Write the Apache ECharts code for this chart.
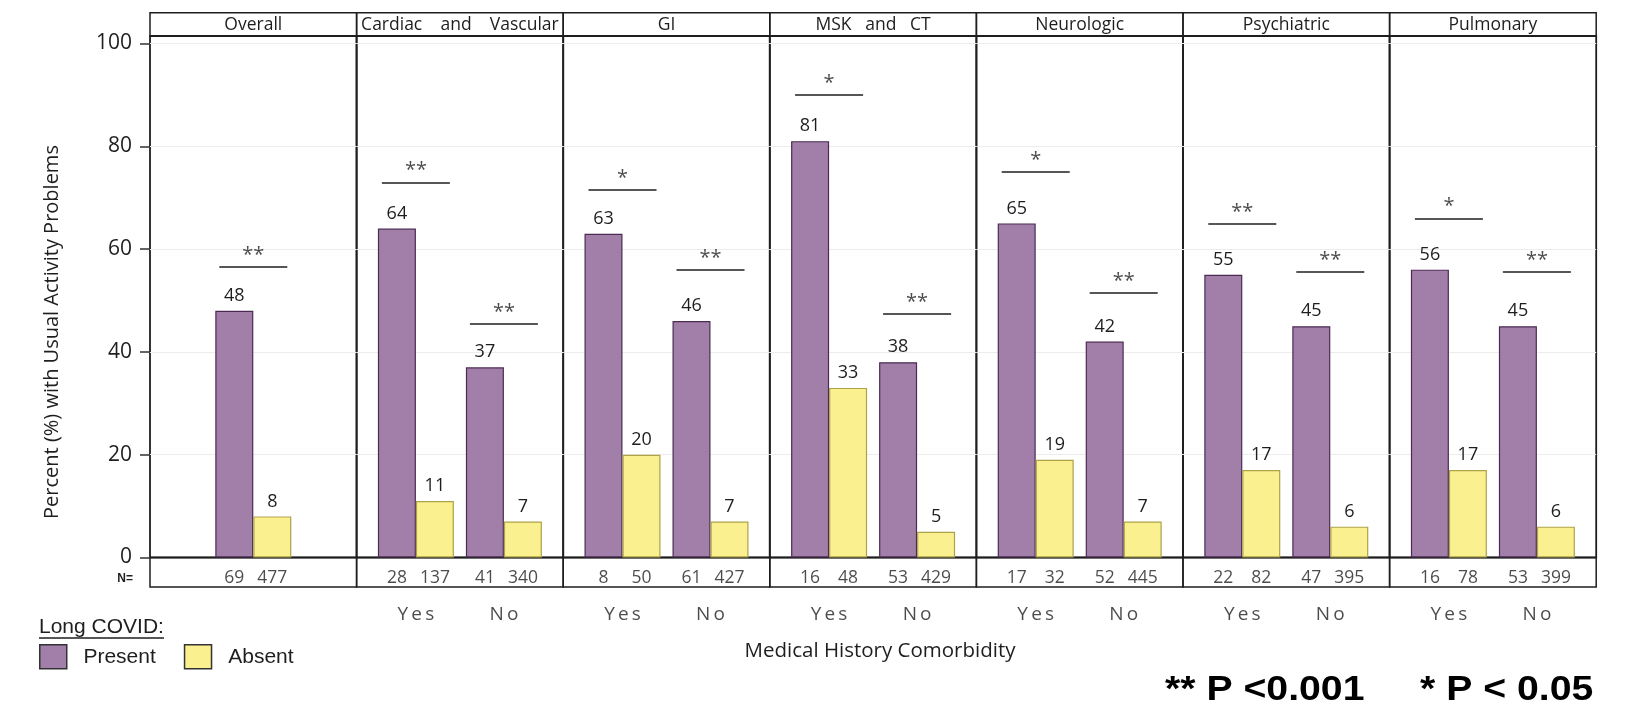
<!DOCTYPE html>
<html>
<head>
<meta charset="utf-8">
<script src="https://cdn.jsdelivr.net/npm/echarts@6/dist/echarts.min.js"></script>
<style>
  html, body { margin: 0; padding: 0; background: #fff; }
  #chart { width: 1636px; height: 707px; }
</style>
</head>
<body>
<div id="chart"></div>
<script>
// Comorbidity panels and their Yes/No groups
const panels = ['Overall', 'Cardiac    and    Vascular', 'GI', 'MSK   and   CT', 'Neurologic', 'Psychiatric', 'Pulmonary'];
const groupLabels = [[''], ['Yes', 'No'], ['Yes', 'No'], ['Yes', 'No'], ['Yes', 'No'], ['Yes', 'No'], ['Yes', 'No']];

// Percent with usual activity problems
const presentPct = [[48], [64, 37], [63, 46], [81, 38], [65, 42], [55, 45], [56, 45]];
const absentPct  = [[8],  [11, 7],  [20, 7],  [33, 5],  [19, 7],  [17, 6],  [17, 6]];

// Group sizes (N=)
const presentN = [[69],  [28, 41],   [8, 61],   [16, 53],  [17, 52],  [22, 47],  [16, 53]];
const absentN  = [[477], [137, 340], [50, 427], [48, 429], [32, 445], [82, 395], [78, 399]];

// Significance markers and the height of their bracket lines
const sigMarks = [['**'], ['**', '**'], ['*', '**'], ['*', '**'], ['*', '**'], ['**', '**'], ['*', '**']];
const sigLevel = [[56.5], [73, 45.5], [71.5, 56], [90, 47.5], [75, 51.5], [65, 55.5], [66, 55.5]];

const legendNames = ['Present', 'Absent'];
const yTickStep = 20;
const yMax = 100;

// ---- layout ----
const LEFT = 150, PW = 206.6;
const HEAD_TOP = 12.7, HEAD_BOT = 36, Y_TOP = 43.5, Y_ZERO = 557.5, N_BOT = 587;
const UNIT_PX = 88;              // pixels between the Yes and No groups
const SPAN = PW / UNIT_PX;       // x-axis units across a panel
const BAR_W = 38;
const HALF = (BAR_W / 2) / UNIT_PX;
const SIG_HALF = 34 / UNIT_PX;

const FONT = "'Open Sans', 'Noto Sans', sans-serif";
const ARIAL = "'Liberation Sans', Arial, sans-serif";
const INK = '#1e1e1e';
const PURPLE = '#a17fa9', PURPLE_EDGE = '#4b2b53';
const YELLOW = '#fbf08f', YELLOW_EDGE = '#ada24a';

const spaced = s => s.split('').join('\u2009');

const grids = [], xAxes = [], yAxes = [], series = [], graphics = [];

function addGrid(g, x, y) {
  grids.push(g);
  const gi = grids.length - 1;
  xAxes.push(Object.assign({ gridIndex: gi, show: false }, x || {}));
  yAxes.push(Object.assign({ gridIndex: gi, show: false }, y || {}));
  return gi;
}

panels.forEach((title, i) => {
  const left = LEFT + i * PW;
  const n = presentPct[i].length;
  const xMin = n === 1 ? -SPAN / 2 : 0.5 - SPAN / 2;
  const xMax = xMin + SPAN;
  const frame = { show: true, borderColor: INK, backgroundColor: 'transparent' };

  // header strip
  addGrid(Object.assign({ left, width: PW, top: HEAD_TOP, height: HEAD_BOT - HEAD_TOP, borderWidth: 1.5 }, frame));
  graphics.push({
    type: 'text', x: left + PW / 2, y: (HEAD_TOP + HEAD_BOT) / 2 + 0.5,
    style: { text: title, fontSize: 17.5, fontFamily: FONT, fill: INK, align: 'center', verticalAlign: 'middle' }
  });

  // data panel
  const dataGrid = addGrid(
    { left, width: PW, top: Y_TOP, height: Y_ZERO - Y_TOP, show: false },
    { type: 'value', min: xMin, max: xMax },
    {
      type: 'value', min: 0, max: yMax, interval: yTickStep, show: true, position: 'left',
      axisLine: { show: false, onZero: false },
      axisTick: { show: i === 0, length: 10, lineStyle: { color: '#333', width: 1.5 } },
      axisLabel: { show: i === 0, fontSize: 21, fontFamily: FONT, color: INK, margin: 18 },
      splitLine: { show: true, showMinLine: false, lineStyle: { color: '#ececec', width: 1 } }
    }
  );

  // frame around the data panel
  addGrid(Object.assign({ left, width: PW, top: HEAD_BOT, height: Y_ZERO - HEAD_BOT, borderWidth: 1.8 }, frame));

  // N= row
  const nGrid = addGrid(
    Object.assign({ left, width: PW, top: Y_ZERO, height: N_BOT - Y_ZERO, borderWidth: 1.5 }, frame),
    { type: 'value', min: xMin, max: xMax },
    { type: 'value', min: 0, max: 1 }
  );

  const barLabel = { show: true, position: 'top', distance: 6, fontSize: 18, fontFamily: FONT, color: INK };

  series.push({
    type: 'bar', name: legendNames[0], xAxisIndex: dataGrid, yAxisIndex: dataGrid,
    barWidth: BAR_W, barGap: '0%',
    data: presentPct[i].map((v, j) => [j, v]),
    itemStyle: { color: PURPLE, borderColor: PURPLE_EDGE, borderWidth: 1.2 },
    label: Object.assign({ formatter: p => p.value[1] }, barLabel)
  });
  series.push({
    type: 'bar', name: legendNames[1], xAxisIndex: dataGrid, yAxisIndex: dataGrid,
    barWidth: BAR_W, barGap: '0%',
    data: absentPct[i].map((v, j) => [j, v]),
    itemStyle: { color: YELLOW, borderColor: YELLOW_EDGE, borderWidth: 1.2 },
    label: Object.assign({ formatter: p => p.value[1] }, barLabel)
  });

  // significance brackets over each group
  series.push({
    type: 'lines', coordinateSystem: 'cartesian2d', xAxisIndex: dataGrid, yAxisIndex: dataGrid,
    silent: true, symbol: ['none', 'none'],
    lineStyle: { color: INK, width: 1.6, opacity: 1, type: 'solid' },
    data: sigLevel[i].map((h, j) => ({ coords: [[j - SIG_HALF, h], [j + SIG_HALF, h]] }))
  });
  series.push({
    type: 'scatter', xAxisIndex: dataGrid, yAxisIndex: dataGrid, silent: true,
    symbolSize: 1, itemStyle: { color: 'transparent' },
    data: sigLevel[i].map((h, j) => [j, h, sigMarks[i][j]]),
    label: { show: true, position: 'top', distance: 1, formatter: p => p.value[2], fontSize: 20, fontFamily: FONT, color: INK }
  });

  // group sizes under each bar
  const nData = [];
  presentN[i].forEach((v, j) => {
    nData.push([j - HALF, 0.3, v]);
    nData.push([j + HALF, 0.3, absentN[i][j]]);
  });
  series.push({
    type: 'scatter', xAxisIndex: nGrid, yAxisIndex: nGrid, silent: true,
    symbolSize: 1, itemStyle: { color: 'transparent' },
    data: nData,
    label: { show: true, position: 'inside', formatter: p => p.value[2], fontSize: 17.5, fontFamily: FONT, color: INK }
  });

  // Yes / No group names
  series.push({
    type: 'scatter', xAxisIndex: nGrid, yAxisIndex: nGrid, silent: true, clip: false,
    symbolSize: 1, itemStyle: { color: 'transparent' },
    data: groupLabels[i].map((g, j) => [j, -0.93, g]),
    label: { show: true, position: 'inside', formatter: p => spaced(p.value[2]), fontSize: 19, fontFamily: FONT, color: INK }
  });
});

// axis titles, legend heading and p-value key
graphics.push(
  {
    type: 'text', x: 52, y: 332, rotation: Math.PI / 2,
    style: { text: 'Percent (%) with Usual Activity Problems', fontSize: 20, fontFamily: FONT, fill: INK, align: 'center', verticalAlign: 'middle' }
  },
  {
    type: 'text', x: 133, y: 579,
    style: { text: 'N=', fontSize: 12, fontWeight: 'bold', fontFamily: ARIAL, fill: INK, align: 'right', verticalAlign: 'middle' }
  },
  {
    type: 'text', x: 880, y: 651,
    style: { text: 'Medical History Comorbidity', fontSize: 20.5, fontFamily: FONT, fill: INK, align: 'center', verticalAlign: 'middle' }
  },
  {
    type: 'text', x: 39, y: 627,
    style: { text: 'Long COVID:', fontSize: 21, fontFamily: ARIAL, fill: INK, align: 'left', verticalAlign: 'middle' }
  },
  {
    type: 'line', shape: { x1: 39, y1: 638, x2: 164, y2: 638 },
    style: { stroke: INK, lineWidth: 1.3 }
  },
  {
    type: 'text', x: 1165, y: 690, scaleX: 1.12,
    style: { text: '** P <0.001', fontSize: 35, fontWeight: 'bold', fontFamily: ARIAL, fill: '#000', align: 'left', verticalAlign: 'middle' }
  },
  {
    type: 'text', x: 1420, y: 690, scaleX: 1.12,
    style: { text: '* P < 0.05', fontSize: 35, fontWeight: 'bold', fontFamily: ARIAL, fill: '#000', align: 'left', verticalAlign: 'middle' }
  }
);

const chart = echarts.init(document.getElementById('chart'), null, { renderer: 'canvas' });
chart.setOption({
  animation: false,
  backgroundColor: '#fff',
  grid: grids,
  xAxis: xAxes,
  yAxis: yAxes,
  series: series,
  legend: {
    left: 39, top: 644, padding: 0,
    icon: 'rect', itemWidth: 27, itemHeight: 24, itemGap: 28,
    data: [
      { name: legendNames[0], itemStyle: { color: PURPLE, borderColor: '#333', borderWidth: 1.5 } },
      { name: legendNames[1], itemStyle: { color: YELLOW, borderColor: '#333', borderWidth: 1.5 } }
    ],
    formatter: name => '  ' + name,
    textStyle: { fontSize: 21, fontFamily: ARIAL, color: INK }
  },
  graphic: graphics
});
</script>
</body>
</html>
